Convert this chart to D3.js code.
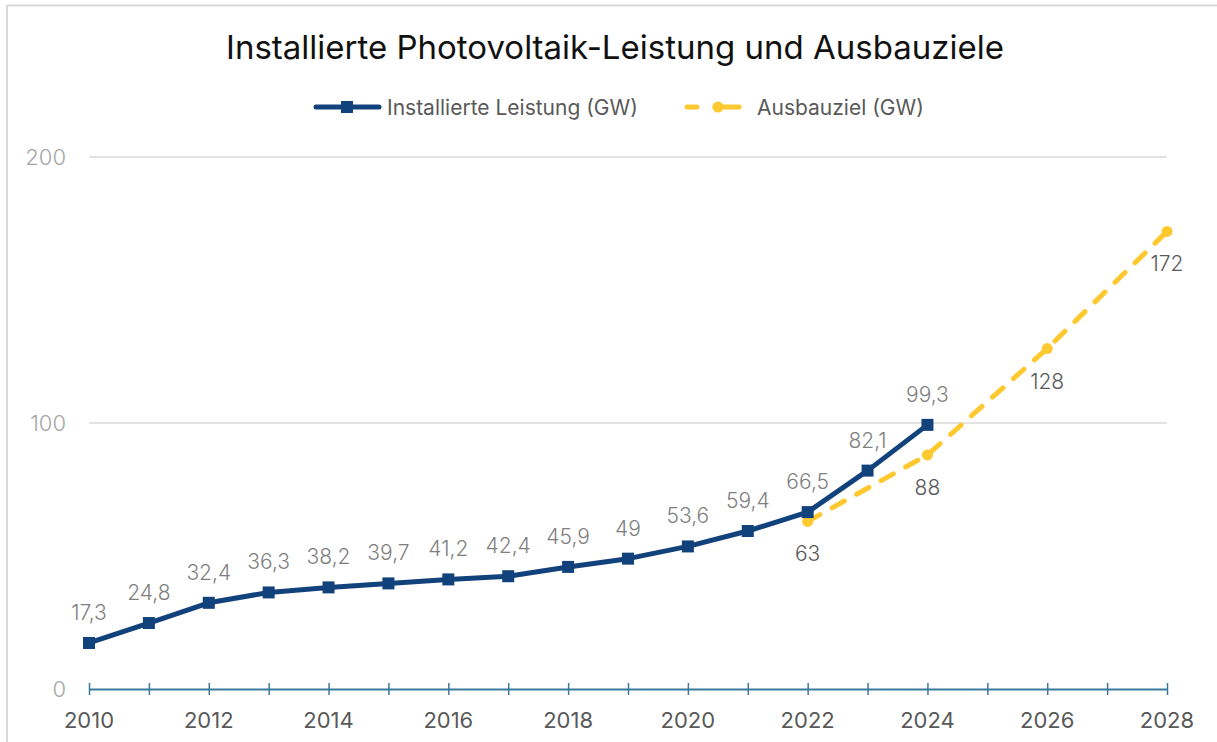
<!DOCTYPE html>
<html>
<head>
<meta charset="utf-8">
<script src="https://cdn.jsdelivr.net/npm/d3@7"></script>
<style>
  body { margin: 0; background: #fff; }
  svg { font-family: Inter, "Open Sans", sans-serif; }
</style>
</head>
<body>
<svg width="1217" height="742"></svg>
<script>
// data
const years = [2010, 2011, 2012, 2013, 2014, 2015, 2016, 2017, 2018, 2019, 2020, 2021, 2022, 2023, 2024];
const installed = [17.3, 24.8, 32.4, 36.3, 38.2, 39.7, 41.2, 42.4, 45.9, 49, 53.6, 59.4, 66.5, 82.1, 99.3];
const targetYears = [2022, 2024, 2026, 2028];
const targets = [63, 88, 128, 172];
const yTicks = [0, 100, 200];
const xLabelYears = [2010, 2012, 2014, 2016, 2018, 2020, 2022, 2024, 2026, 2028];

const svg = d3.select("svg");
const width = +svg.attr("width");

const blue = "#12427c";
const yellow = "#fdc92f";
const fmt = (v) => String(v).replace(".", ",");

// frame
svg.append("line").attr("x1", 7).attr("x2", width).attr("y1", 5.5).attr("y2", 5.5)
  .attr("stroke", "#d9d9d9").attr("stroke-width", 2);
svg.append("line").attr("x1", 7).attr("x2", 7).attr("y1", 5).attr("y2", 742)
  .attr("stroke", "#d9d9d9").attr("stroke-width", 2);

const x = d3.scaleLinear().domain([2010, 2028]).range([89, 1167]);
const y = d3.scaleLinear().domain([0, 200]).range([689, 157]);

// title
svg.append("text").attr("x", 615).attr("y", 59).attr("text-anchor", "middle")
  .attr("font-size", 33).attr("fill", "#111")
  .text("Installierte Photovoltaik-Leistung und Ausbauziele");

// legend
const lg = svg.append("g");
lg.append("line").attr("x1", 316).attr("x2", 379).attr("y1", 107).attr("y2", 107)
  .attr("stroke", blue).attr("stroke-width", 5).attr("stroke-linecap", "round");
lg.append("rect").attr("x", 341).attr("y", 101).attr("width", 12).attr("height", 12).attr("fill", blue);
lg.append("text").attr("x", 387).attr("y", 115).attr("font-size", 21).attr("fill", "#595959")
  .text("Installierte Leistung (GW)");
lg.append("line").attr("x1", 687).attr("x2", 697).attr("y1", 107).attr("y2", 107)
  .attr("stroke", yellow).attr("stroke-width", 5).attr("stroke-linecap", "round");
lg.append("line").attr("x1", 715).attr("x2", 739).attr("y1", 107).attr("y2", 107)
  .attr("stroke", yellow).attr("stroke-width", 5).attr("stroke-linecap", "round");
lg.append("circle").attr("cx", 718).attr("cy", 107).attr("r", 5.5).attr("fill", yellow);
lg.append("text").attr("x", 757).attr("y", 115).attr("font-size", 21).attr("fill", "#595959")
  .text("Ausbauziel (GW)");

// gridlines
svg.append("g").selectAll("line").data(yTicks.filter((d) => d > 0)).join("line")
  .attr("x1", 89).attr("x2", 1167)
  .attr("y1", (d) => y(d)).attr("y2", (d) => y(d))
  .attr("stroke", "#d9d9d9").attr("stroke-width", 1.5);

// y labels
svg.append("g").selectAll("text").data(yTicks).join("text")
  .attr("x", 66).attr("y", (d) => y(d) + 8).attr("text-anchor", "end")
  .attr("font-size", 22).attr("font-weight", 300).attr("fill", "#a6a6a6").text((d) => d);

// x axis
const xAxis = d3.axisBottom(x)
  .tickValues(d3.range(2010, 2029))
  .tickSizeInner(6).tickSizeOuter(0)
  .tickFormat("");
const xg = svg.append("g").attr("transform", `translate(0,${y(0)})`).call(xAxis);
xg.select(".domain").attr("stroke", "#3a7a9c").attr("stroke-width", 2);
xg.selectAll(".tick line").attr("stroke", "#3a7a9c").attr("stroke-width", 1.5)
  .attr("y1", -6).attr("y2", 6);
svg.append("g").selectAll("text").data(xLabelYears).join("text")
  .attr("x", (d) => x(d)).attr("y", 728).attr("text-anchor", "middle")
  .attr("font-size", 22).attr("fill", "#595959").text((d) => d);

// target series (dashed)
const tData = targetYears.map((yr, i) => ({ yr, v: targets[i] }));
const line = d3.line().x((d) => x(d.yr)).y((d) => y(d.v));
svg.append("path").datum(tData).attr("d", line)
  .attr("fill", "none").attr("stroke", yellow).attr("stroke-width", 5)
  .attr("stroke-linecap", "round").attr("stroke-dasharray", "14 14");
svg.append("g").selectAll("circle").data(tData).join("circle")
  .attr("cx", (d) => x(d.yr)).attr("cy", (d) => y(d.v)).attr("r", 5.5).attr("fill", yellow);

// installed series
const iData = years.map((yr, i) => ({ yr, v: installed[i] }));
svg.append("path").datum(iData).attr("d", line)
  .attr("fill", "none").attr("stroke", blue).attr("stroke-width", 5)
  .attr("stroke-linejoin", "round");
svg.append("g").selectAll("rect").data(iData).join("rect")
  .attr("x", (d) => x(d.yr) - 6).attr("y", (d) => y(d.v) - 6)
  .attr("width", 12).attr("height", 12).attr("fill", blue);

// labels
svg.append("g").selectAll("text").data(iData).join("text")
  .attr("x", (d) => x(d.yr)).attr("y", (d) => y(d.v) - 23).attr("text-anchor", "middle")
  .attr("font-size", 21).attr("font-weight", 300).attr("fill", "#7f7f7f").text((d) => fmt(d.v));
svg.append("g").selectAll("text").data(tData).join("text")
  .attr("x", (d) => x(d.yr)).attr("y", (d) => y(d.v) + 40).attr("text-anchor", "middle")
  .attr("font-size", 21).attr("font-weight", 300).attr("fill", "#595959").text((d) => fmt(d.v));
</script>
</body>
</html>
